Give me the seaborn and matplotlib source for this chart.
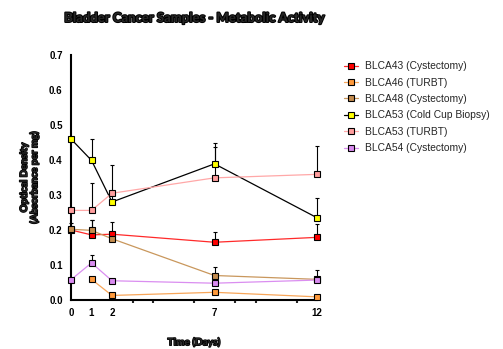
import numpy as np
import pandas as pd
import matplotlib
matplotlib.use("Agg")
import matplotlib.pyplot as plt
import matplotlib.patheffects as pe
import seaborn as sns

sns.set_style("white")
plt.rcParams['font.family'] = ['Liberation Sans', 'DejaVu Sans']

series = ["BLCA43 (Cystectomy)", "BLCA46 (TURBT)", "BLCA48 (Cystectomy)",
          "BLCA53 (Cold Cup Biopsy)", "BLCA53 (TURBT)", "BLCA54 (Cystectomy)"]
days = [0, 1, 2, 7, 12]
blca43 = [0.200, 0.186, 0.188, 0.165, 0.179]
blca46 = [np.nan, 0.059, 0.013, 0.022, 0.009]
blca48 = [0.202, 0.199, 0.175, 0.070, 0.059]
blca53_ccb = [0.460, 0.399, 0.280, 0.389, 0.235]
blca53_turbt = [0.256, 0.256, 0.305, 0.349, 0.359]
blca54 = [0.058, 0.106, 0.055, 0.048, 0.057]
# upper error (absolute top of bar)
err43 = [np.nan, 0.229, 0.224, 0.193, 0.217]
err46 = [np.nan, np.nan, np.nan, np.nan, np.nan]
err48 = [0.220, 0.229, np.nan, 0.095, 0.086]
err53c = [np.nan, 0.460, 0.385, 0.449, 0.292]
err53t = [np.nan, 0.333, np.nan, 0.438, 0.441]
err54 = [np.nan, 0.130, np.nan, np.nan, np.nan]

values = [blca43, blca46, blca48, blca53_ccb, blca53_turbt, blca54]
errs = [err43, err46, err48, err53c, err53t, err54]
fills = ["#FF0000", "#FF9A3C", "#C48C4E", "#FFFF00", "#FF9E9E", "#D98BF0"]
lines = ["#FF2A2A", "#F7A65A", "#C9975C", "#000000", "#FFA8A8", "#DA8EF0"]

fig = plt.figure(figsize=(5.03, 3.49), dpi=100)
ax = fig.add_axes([71/503, 49/349, 246/503, 245/349])

rows = []
for name, v in zip(series, values):
    for d, y in zip(days, v):
        rows.append({"Day": d, "OD": y, "Sample": name})
df = pd.DataFrame(rows)

for i, (name, v, e) in enumerate(zip(series, values, errs)):
    v = np.array(v, float); e = np.array(e, float)
    up = e - v
    mask = ~np.isnan(up)
    if mask.any():
        xs = np.array(days)[mask]
        ax.errorbar(xs, v[mask], yerr=[np.zeros(mask.sum()), up[mask]], fmt='none',
                    ecolor='black', elinewidth=0.8, capsize=1.2, capthick=0.8,
                    clip_on=False, zorder=2)

for i, name in enumerate(series):
    sub = df[df["Sample"] == name].dropna()
    sns.lineplot(data=sub, x="Day", y="OD", ax=ax, color=lines[i], linewidth=0.9,
                 marker='s', markersize=4.6, markerfacecolor=fills[i],
                 markeredgecolor='black', markeredgewidth=0.8, label=name,
                 clip_on=False, zorder=3 + i)

ax.set_xlim(0, 12)
ax.set_ylim(0, 0.7)
ax.set_xticks([0, 1, 2, 5, 7, 10, 12])
ax.set_xticklabels(['0', '1', '2', '', '7', '', '12'])
ax.set_xticks([3, 4, 6, 8, 9, 11], minor=True)
ax.set_yticks(np.arange(0, 0.71, 0.1))
ax.set_yticklabels([f"{t:.1f}" for t in np.arange(0, 0.71, 0.1)])
for s in ['top', 'right']:
    ax.spines[s].set_visible(False)
for s in ['left', 'bottom']:
    ax.spines[s].set_linewidth(1.5)
    ax.spines[s].set_color('black')
ax.tick_params(axis='both', which='major', direction='out', length=4, width=1.5,
               labelsize=7, pad=2, colors='black')
ax.tick_params(axis='x', which='minor', direction='out', length=2.5, width=1.5,
               bottom=True)
for lab in ax.get_xticklabels() + ax.get_yticklabels():
    lab.set_fontweight('bold')

heavy = ['Lato', 'DejaVu Sans']
thick = [pe.withStroke(linewidth=1.0, foreground='black')]
ax.set_xlabel("Time (Days)", fontsize=7.2, fontweight='black', family=heavy,
              labelpad=14, path_effects=thick)
ax.set_ylabel("Optical Density\n(Absorbance per mg)", fontsize=7.2, fontweight='black',
              family=heavy, labelpad=7, linespacing=1.1, path_effects=thick)
fig.text(194/503, 1 - 18/349, "Bladder Cancer Samples - Metabolic Activity",
         ha='center', va='center', fontsize=9.4, fontweight='black', family=heavy,
         path_effects=[pe.withStroke(linewidth=1.4, foreground='black')])

leg = ax.legend(loc='upper left', bbox_to_anchor=(335/503, 1 - 52/349),
                bbox_transform=fig.transFigure, frameon=False, fontsize=7.4,
                handlelength=1.3, handletextpad=0.7, labelspacing=0.62,
                markerscale=1.0)

fig.savefig("out.png", dpi=100)
